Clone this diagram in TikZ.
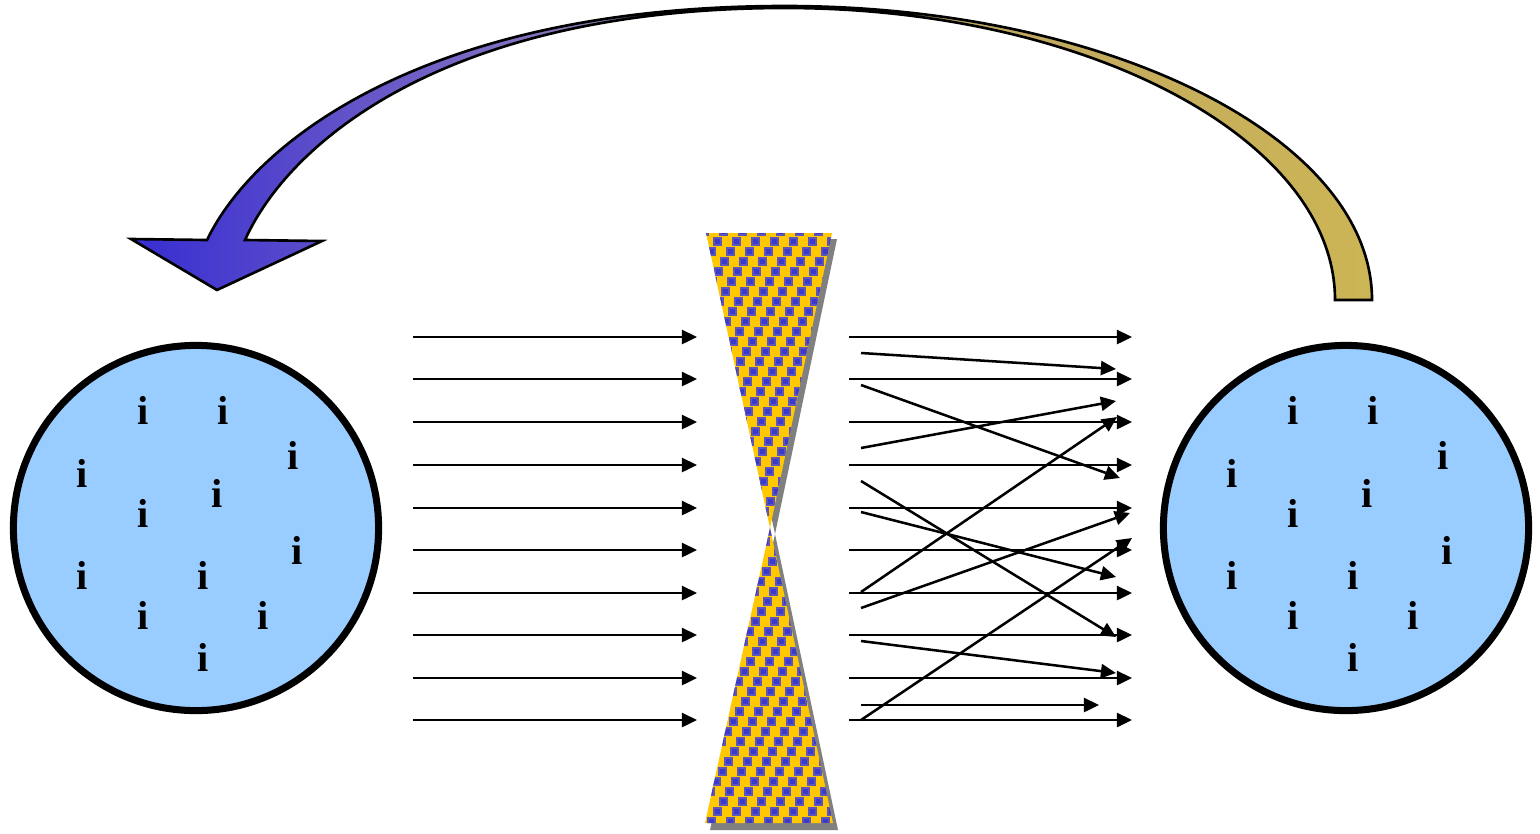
\documentclass[tikz,border=0pt]{standalone}
\usepackage{fontspec}
\setmainfont{Liberation Serif}
\usetikzlibrary{arrows.meta}
\definecolor{circblue}{RGB}{153,204,255}
\definecolor{hgyellow}{RGB}{255,200,0}
\definecolor{hgblue}{RGB}{58,58,205}
\definecolor{hgedge}{RGB}{95,85,185}
\definecolor{shadowgray}{RGB}{128,128,128}
\pgfdeclarehorizontalshading{bluegold}{100bp}{%
  rgb(0bp)=(0.216,0.176,0.824);
  rgb(25bp)=(0.216,0.176,0.824);
  rgb(40bp)=(0.50,0.43,0.76);
  rgb(50bp)=(0.62,0.55,0.58);
  rgb(57bp)=(0.75,0.65,0.40);
  rgb(75bp)=(0.80,0.71,0.33);
  rgb(100bp)=(0.80,0.71,0.33)}
\tikzset{
  flow/.style={line width=0.72pt, -{Triangle[length=4.3pt,width=4pt]}},
  pool/.style={circle, draw=black, line width=2pt, fill=circblue, minimum size=3.65cm, inner sep=0pt},
  ion/.style={inner sep=0pt, font=\fontsize{11.5pt}{12pt}\selectfont\bfseries},
  bigarrow/.style={draw=black, line width=0.75pt, shading=bluegold},
}
\begin{document}
\begin{tikzpicture}[x=0.01cm,y=-0.01cm]
\useasboundingbox (0,0) rectangle (1540,833);

% big curved arrow
\path[bigarrow] (1372,300) .. controls (1372,138) and (1109,6) .. (785,6)
  .. controls (430,6) and (255,140) .. (207,240) -- (131,239) -- (217,290) -- (322,241) -- (245,240)
  .. controls (290,140) and (450,8) .. (785,8)
  .. controls (1089,8) and (1335,140) .. (1335,300) -- cycle;

% pools
\node[pool] (lpool) at (196,528) {};
\node[pool] (rpool) at (1346,528) {};
\foreach \x/\y [count=\n] in {143/410,223/410,293/455,82/473,217/493,143/513,297/550,82/575,203/575,143/615,263/615,203/657}{
  \node[ion] (li\n) at (\x,\y) {i};
  \node[ion] (ri\n) at ({\x+1150},\y) {i};
}

% hourglass shadow
\fill[shadowgray] (711,239) -- (837,239) -- (775,534) -- cycle (775,534) -- (710,830) -- (838,830) -- cycle;
% hourglass patterned body
\begin{scope}
\clip (706,233) -- (832,233) -- (770,528) -- cycle (770,528) -- (705,823) -- (833,823) -- cycle;
\fill[hgyellow] (700,228) rectangle (840,830);
\foreach \j in {0,...,60}{
  \pgfmathsetmacro{\yy}{228+10*\j}
  \pgfmathsetmacro{\off}{mod(13*\j,19)}
  \foreach \i in {0,...,8}{
    \filldraw[fill=hgblue, draw=hgedge, line width=0.4pt] ({682+19*\i+\off},\yy) rectangle +(7,7);
  }
}
\end{scope}

% incoming parallel arrows and outgoing parallel arrows
\foreach \y [count=\k] in {337,379,422,465,508,550,593,635,678,720}{
  \coordinate (ia\k) at (413,\y);
  \coordinate (ib\k) at (697,\y);
  \draw[flow] (ia\k) -- (ib\k);
  \coordinate (oa\k) at (849,\y);
  \coordinate (ob\k) at (1132,\y);
  \draw[flow] (oa\k) -- (ob\k);
}

% scattered arrows
\foreach \sx/\sy/\ex/\ey [count=\k] in {861/353/1116/369, 861/385/1120/478, 861/448/1116/401, 861/481/1116/637, 861/512/1116/577, 861/592/1117/417, 861/608/1130/513, 861/641/1116/673, 861/705/1099/705, 861/720/1132/538}{
  \coordinate (sa\k) at (\sx,\sy);
  \coordinate (sb\k) at (\ex,\ey);
  \draw[flow] (sa\k) -- (sb\k);
}
\end{tikzpicture}
\end{document}
